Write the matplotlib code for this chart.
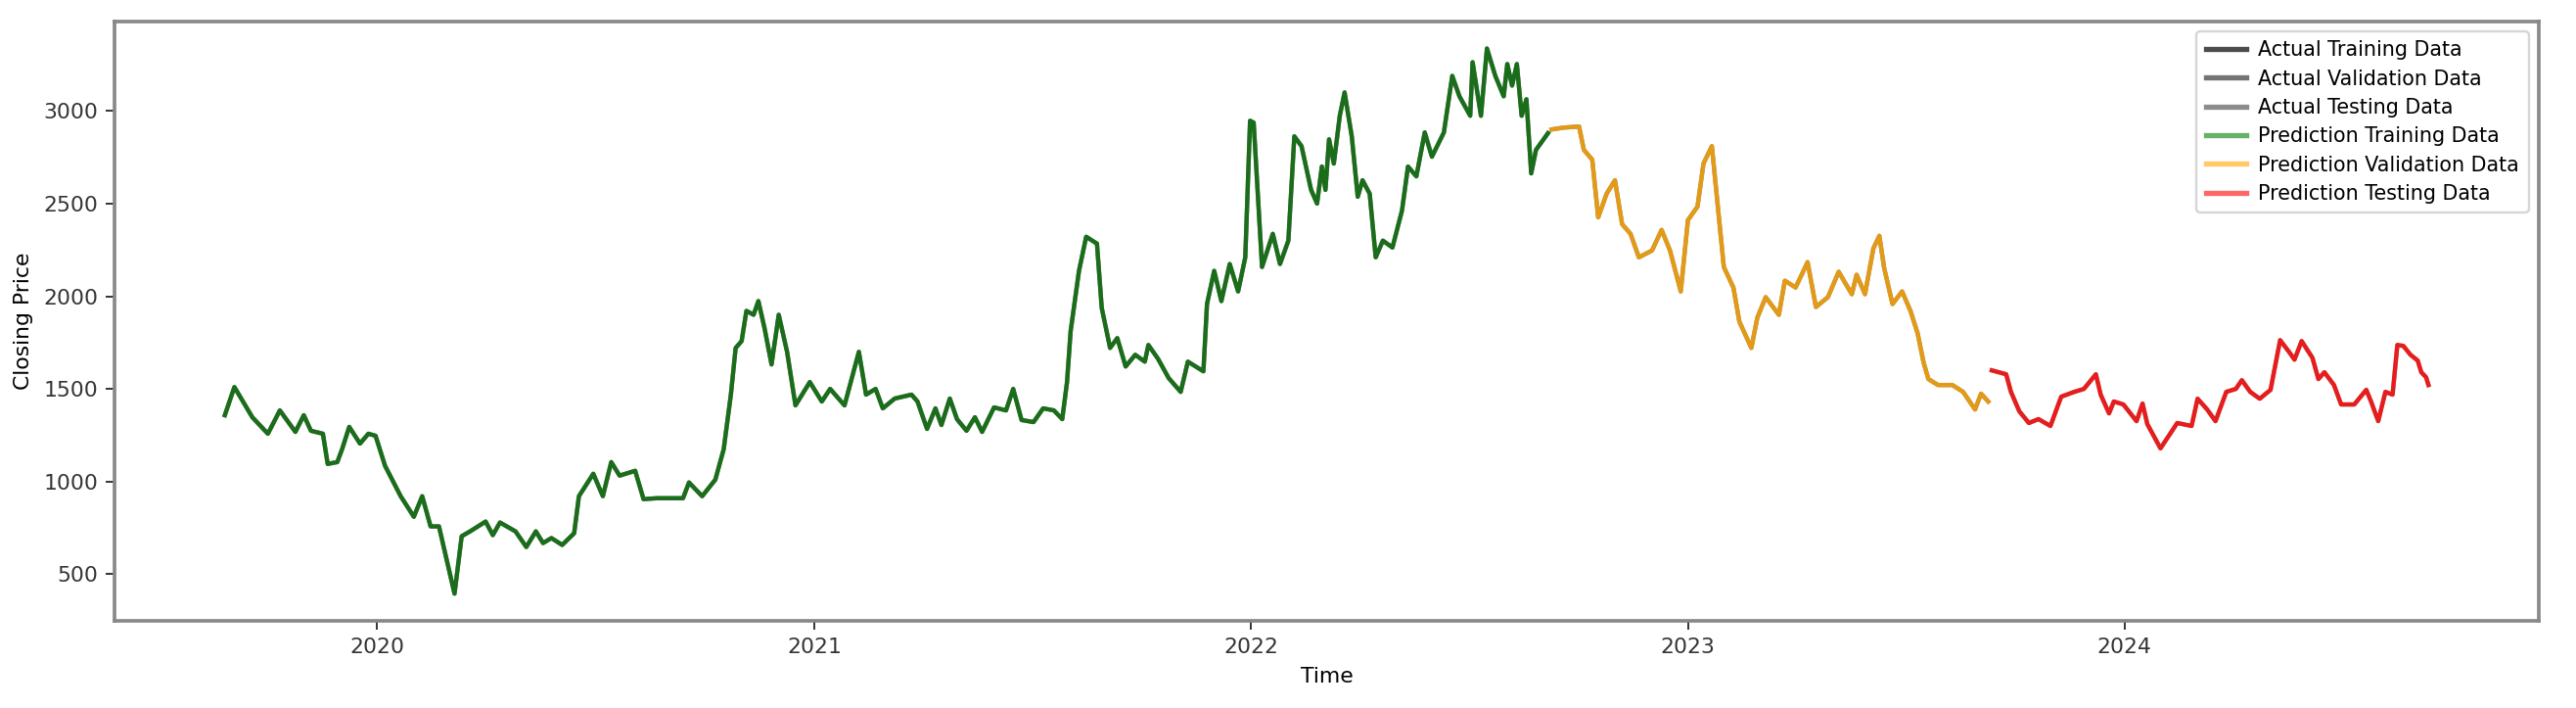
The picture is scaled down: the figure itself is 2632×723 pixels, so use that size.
import pandas as pd
import matplotlib
matplotlib.use("Agg")
from matplotlib import pyplot as plt

# closing prices (roughly weekly samples)
train_dates = [
    "2019-08-27", "2019-09-04", "2019-09-19", "2019-10-02", "2019-10-12", "2019-10-25",
    "2019-11-01", "2019-11-07", "2019-11-17", "2019-11-21", "2019-11-29", "2019-12-03",
    "2019-12-09", "2019-12-18", "2019-12-25", "2019-12-31", "2020-01-08", "2020-01-21",
    "2020-02-01", "2020-02-08", "2020-02-15", "2020-02-22", "2020-03-06", "2020-03-12",
    "2020-03-19", "2020-04-01", "2020-04-07", "2020-04-13", "2020-04-26", "2020-05-05",
    "2020-05-13", "2020-05-19", "2020-05-26", "2020-06-04", "2020-06-14", "2020-06-18",
    "2020-06-30", "2020-07-08", "2020-07-15", "2020-07-22", "2020-08-04", "2020-08-11",
    "2020-08-22", "2020-09-02", "2020-09-13", "2020-09-18", "2020-09-29", "2020-10-10",
    "2020-10-17", "2020-10-23", "2020-10-27", "2020-11-01", "2020-11-05", "2020-11-11",
    "2020-11-15", "2020-11-20", "2020-11-26", "2020-12-02", "2020-12-09", "2020-12-16",
    "2020-12-28", "2021-01-07", "2021-01-14", "2021-01-26", "2021-02-07", "2021-02-13",
    "2021-02-21", "2021-02-27", "2021-03-09", "2021-03-23", "2021-03-28", "2021-04-05",
    "2021-04-12", "2021-04-17", "2021-04-24", "2021-04-30", "2021-05-08", "2021-05-15",
    "2021-05-21", "2021-05-31", "2021-06-10", "2021-06-16", "2021-06-23", "2021-07-03",
    "2021-07-11", "2021-07-20", "2021-07-27", "2021-07-31", "2021-08-03", "2021-08-10",
    "2021-08-16", "2021-08-25", "2021-08-29", "2021-09-05", "2021-09-11", "2021-09-18",
    "2021-09-26", "2021-10-04", "2021-10-07", "2021-10-15", "2021-10-24", "2021-11-03",
    "2021-11-09", "2021-11-22", "2021-11-25", "2021-12-01", "2021-12-07", "2021-12-14",
    "2021-12-21", "2021-12-27", "2021-12-31", "2022-01-03", "2022-01-10", "2022-01-19",
    "2022-01-25", "2022-02-01", "2022-02-06", "2022-02-12", "2022-02-20", "2022-02-25",
    "2022-03-01", "2022-03-04", "2022-03-07", "2022-03-11", "2022-03-16", "2022-03-20",
    "2022-03-26", "2022-03-31", "2022-04-04", "2022-04-10", "2022-04-15", "2022-04-21",
    "2022-04-29", "2022-05-07", "2022-05-12", "2022-05-19", "2022-05-26", "2022-06-01",
    "2022-06-11", "2022-06-18", "2022-06-24", "2022-07-03", "2022-07-05", "2022-07-12",
    "2022-07-17", "2022-07-24", "2022-07-31", "2022-08-03", "2022-08-07", "2022-08-11",
    "2022-08-15", "2022-08-19", "2022-08-23", "2022-08-27", "2022-09-06",
]
train_close = [
    1358, 1510, 1347, 1258, 1384, 1268,
    1358, 1274, 1258, 1095, 1105, 1174,
    1295, 1205, 1258, 1247, 1084, 921,
    810, 921, 758, 758, 395, 705,
    731, 784, 711, 779, 731, 647,
    731, 668, 695, 658, 721, 921,
    1042, 921, 1105, 1032, 1058, 905,
    910, 910, 910, 995, 921, 1010,
    1174, 1469, 1721, 1758, 1921, 1900,
    1974, 1832, 1632, 1900, 1700, 1411,
    1537, 1432, 1500, 1411, 1700, 1469,
    1500, 1395, 1448, 1469, 1432, 1284,
    1395, 1305, 1448, 1337, 1274, 1347,
    1268, 1400, 1384, 1500, 1332, 1321,
    1395, 1384, 1337, 1537, 1811, 2137,
    2321, 2284, 1937, 1721, 1774, 1621,
    1684, 1647, 1737, 1663, 1558, 1484,
    1647, 1595, 1958, 2137, 1974, 2174,
    2026, 2210, 2947, 2937, 2158, 2337,
    2174, 2300, 2863, 2810, 2574, 2500,
    2700, 2574, 2847, 2716, 2974, 3100,
    2863, 2537, 2626, 2553, 2210, 2300,
    2263, 2463, 2700, 2647, 2884, 2753,
    2884, 3189, 3079, 2974, 3263, 2974,
    3337, 3189, 3079, 3253, 3137, 3253,
    2974, 3063, 2663, 2790, 2880,
]

val_dates = [
    "2022-09-09", "2022-09-19", "2022-10-02", "2022-10-06", "2022-10-13", "2022-10-18",
    "2022-10-25", "2022-11-01", "2022-11-07", "2022-11-14", "2022-11-21", "2022-12-02",
    "2022-12-10", "2022-12-17", "2022-12-26", "2023-01-01", "2023-01-09", "2023-01-14",
    "2023-01-21", "2023-01-31", "2023-02-08", "2023-02-13", "2023-02-23", "2023-02-28",
    "2023-03-07", "2023-03-18", "2023-03-23", "2023-04-01", "2023-04-11", "2023-04-18",
    "2023-04-28", "2023-05-07", "2023-05-18", "2023-05-22", "2023-05-29", "2023-06-05",
    "2023-06-10", "2023-06-14", "2023-06-21", "2023-06-29", "2023-07-06", "2023-07-12",
    "2023-07-17", "2023-07-21", "2023-07-29", "2023-08-10", "2023-08-19", "2023-08-29",
    "2023-09-03", "2023-09-09",
]
val_close = [
    2900, 2910, 2916, 2790, 2737, 2426,
    2553, 2626, 2389, 2337, 2210, 2247,
    2358, 2247, 2026, 2411, 2484, 2716,
    2810, 2158, 2047, 1863, 1721, 1884,
    1995, 1900, 2084, 2047, 2184, 1942,
    1995, 2132, 2011, 2116, 2011, 2258,
    2326, 2153, 1958, 2026, 1921, 1800,
    1642, 1553, 1521, 1521, 1484, 1389,
    1474, 1432,
]

test_dates = [
    "2023-09-12", "2023-09-24", "2023-09-28", "2023-10-05", "2023-10-13", "2023-10-21",
    "2023-10-31", "2023-11-09", "2023-11-20", "2023-11-28", "2023-12-08", "2023-12-12",
    "2023-12-19", "2023-12-23", "2023-12-31", "2024-01-11", "2024-01-16", "2024-01-20",
    "2024-01-31", "2024-02-14", "2024-02-26", "2024-03-02", "2024-03-10", "2024-03-17",
    "2024-03-26", "2024-04-03", "2024-04-08", "2024-04-15", "2024-04-23", "2024-05-02",
    "2024-05-10", "2024-05-18", "2024-05-22", "2024-05-28", "2024-06-06", "2024-06-11",
    "2024-06-16", "2024-06-24", "2024-06-30", "2024-07-11", "2024-07-21", "2024-07-25",
    "2024-07-31", "2024-08-06", "2024-08-12", "2024-08-16", "2024-08-21", "2024-08-27",
    "2024-09-02", "2024-09-05", "2024-09-09", "2024-09-11",
]
test_close = [
    1600, 1579, 1484, 1379, 1316, 1337,
    1300, 1458, 1484, 1500, 1579, 1469,
    1368, 1432, 1416, 1326, 1421, 1310,
    1179, 1316, 1300, 1447, 1389, 1326,
    1484, 1500, 1547, 1484, 1447, 1495,
    1763, 1695, 1658, 1758, 1668, 1553,
    1590, 1521, 1416, 1416, 1495, 1432,
    1326, 1484, 1469, 1737, 1732, 1684,
    1653, 1590, 1563, 1521,
]

train_t = pd.to_datetime(train_dates)
val_t = pd.to_datetime(val_dates)
test_t = pd.to_datetime(test_dates)

fig = plt.figure(figsize=(2632 / 175, 723 / 175), dpi=175)
ax = fig.add_axes([0.0445, 0.123, 0.941, 0.847])

lw = 1.8
ax.plot(train_t, train_close, color="black", alpha=0.7, lw=lw, label="Actual Training Data")
ax.plot(val_t, val_close, color="black", alpha=0.55, lw=lw, label="Actual Validation Data")
ax.plot(test_t, test_close, color="black", alpha=0.45, lw=lw, label="Actual Testing Data")
ax.plot(train_t, train_close, color="green", alpha=0.65, lw=lw, label="Prediction Training Data")
ax.plot(val_t, val_close, color="orange", alpha=0.8, lw=lw, label="Prediction Validation Data")
ax.plot(test_t, test_close, color="red", alpha=0.8, lw=lw, label="Prediction Testing Data")

ax.set_xlabel("Time", fontsize=9)
ax.set_ylabel("Closing Price", fontsize=9)
ax.tick_params(labelsize=9, colors="#333333")
for spine in ax.spines.values():
    spine.set_color("#888888")
    spine.set_linewidth(1.5)

leg = ax.legend(loc="upper right", fontsize=8.5, handlelength=2.0, labelspacing=0.45,
                handletextpad=0.6, borderpad=0.45)
for handle in leg.legend_handles[3:]:
    handle.set_alpha(0.6)
    handle.set_linewidth(2.2)
for handle in leg.legend_handles[:3]:
    handle.set_linewidth(2.2)

fig.savefig("out.png", dpi=175)
